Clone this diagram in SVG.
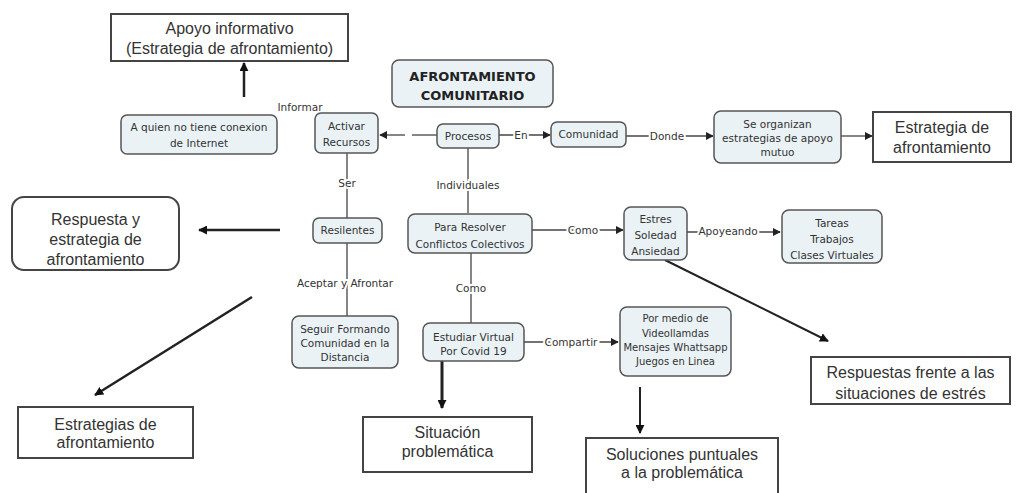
<svg xmlns="http://www.w3.org/2000/svg" width="1016" height="493" viewBox="0 0 1016 493">
<defs>
<marker id="ah" viewBox="0 0 10 10" refX="9" refY="5" markerWidth="8" markerHeight="8" markerUnits="userSpaceOnUse" orient="auto"><path d="M0,0 L10,5 L0,10 z" fill="#222"/></marker>
<marker id="ahb" viewBox="0 0 10 10" refX="9" refY="5" markerWidth="9" markerHeight="9" markerUnits="userSpaceOnUse" orient="auto"><path d="M0,0 L10,5 L0,10 z" fill="#111"/></marker>
</defs>
<style>
.n{fill:#eaf2f6;stroke:#555;stroke-width:1.5}
.b{fill:#fff;stroke:#444;stroke-width:2}
.t{font-family:"DejaVu Sans",Verdana,sans-serif;font-size:10.5px;fill:#333;text-anchor:middle}
.ts{font-size:10px}
.tb{font-family:"DejaVu Sans",Verdana,sans-serif;font-size:13px;font-weight:bold;fill:#222;text-anchor:middle}
.a{font-family:"Liberation Sans",Arial,sans-serif;font-size:16px;fill:#333;text-anchor:middle}
.l{font-family:"DejaVu Sans",Verdana,sans-serif;font-size:10.5px;fill:#333;text-anchor:middle;stroke:#fff;stroke-width:4;paint-order:stroke}
.c{stroke:#444;stroke-width:1.3;fill:none}
.k{stroke:#222;stroke-width:2.5;fill:none}
</style>
<rect width="1016" height="493" fill="#fff"/>
<g id="connectors">
<line class="c" x1="437" y1="135" x2="412" y2="135"/>
<line class="c" x1="405" y1="135" x2="380" y2="135" marker-end="url(#ah)"/>
<line class="k" x1="244" y1="97" x2="244" y2="63" marker-end="url(#ahb)"/>
<line class="c" x1="499" y1="135" x2="550" y2="135" marker-end="url(#ah)"/>
<line class="c" x1="626" y1="136" x2="713" y2="136" marker-end="url(#ah)"/>
<line class="c" x1="841" y1="136" x2="872" y2="136" marker-end="url(#ah)"/>
<line class="c" x1="468" y1="148" x2="468" y2="213"/>
<line class="c" x1="347" y1="153" x2="347" y2="218"/>
<line class="k" x1="280" y1="230" x2="199" y2="230" marker-end="url(#ahb)"/>
<line class="c" x1="347" y1="243" x2="347" y2="316"/>
<line class="k" x1="252" y1="297" x2="95" y2="395" marker-end="url(#ahb)"/>
<line class="c" x1="532" y1="230" x2="623" y2="230" marker-end="url(#ah)"/>
<line class="c" x1="687" y1="232" x2="780" y2="232" marker-end="url(#ah)"/>
<line class="k" x1="665" y1="260" x2="828" y2="341" marker-end="url(#ahb)" style="stroke-width:2"/>
<line class="c" x1="471" y1="253" x2="471" y2="323"/>
<line class="c" x1="524" y1="342" x2="618" y2="342" marker-end="url(#ah)"/>
<line class="k" x1="442" y1="361" x2="442" y2="408" marker-end="url(#ahb)" style="stroke-width:3"/>
<line class="k" x1="640" y1="387" x2="640" y2="433" marker-end="url(#ahb)" style="stroke-width:2"/>
<text class="l" x="300" y="111">Informar</text>
<text class="l" x="521" y="139">En</text>
<text class="l" x="667" y="140">Donde</text>
<text class="l" x="468" y="189">Individuales</text>
<text class="l" x="347" y="187">Ser</text>
<text class="l" x="345" y="287">Aceptar y Afrontar</text>
<text class="l" x="583" y="234">Como</text>
<text class="l" x="728" y="235">Apoyeando</text>
<text class="l" x="471" y="292">Como</text>
<text class="l" x="571" y="346">Compartir</text>
</g>
<g id="apoyo"><rect class="b" x="111" y="14" width="237" height="47"/><text class="a" x="229.5" y="34">Apoyo informativo</text><text class="a" x="229.5" y="54">(Estrategia de afrontamiento)</text></g>
<g id="titulo"><rect class="n" x="392" y="60" width="161" height="47" rx="7"/><text class="tb" x="472.5" y="81">AFRONTAMIENTO</text><text class="tb" x="472.5" y="100">COMUNITARIO</text></g>
<g id="aquien"><rect class="n" x="121" y="115" width="156" height="39" rx="6"/><text class="t" x="199" y="131">A quien no tiene conexion</text><text class="t" x="199" y="147">de Internet</text></g>
<g id="activar"><rect class="n" x="315" y="113" width="63" height="40" rx="6"/><text class="t" x="346.5" y="130">Activar</text><text class="t" x="346.5" y="146">Recursos</text></g>
<g id="procesos"><rect class="n" x="437" y="124" width="62" height="24" rx="6"/><text class="t" x="468" y="140">Procesos</text></g>
<g id="comunidad"><rect class="n" x="551" y="122" width="75" height="25" rx="6"/><text class="t" x="588.5" y="138">Comunidad</text></g>
<g id="seorganizan"><rect class="n" x="714" y="111" width="127" height="52" rx="7"/><text class="t" x="777.5" y="128">Se organizan</text><text class="t" x="777.5" y="142">estrategias de apoyo</text><text class="t" x="777.5" y="156">mutuo</text></g>
<g id="estrategia"><rect class="b" x="873" y="112" width="138" height="50"/><text class="a" x="942" y="133">Estrategia de</text><text class="a" x="942" y="153">afrontamiento</text></g>
<g id="respuesta"><rect class="b" x="12" y="197" width="167" height="73" rx="12"/><text class="a" x="95.5" y="225">Respuesta y</text><text class="a" x="95.5" y="245">estrategia de</text><text class="a" x="95.5" y="265">afrontamiento</text></g>
<g id="resilentes"><rect class="n" x="313" y="218" width="69" height="25" rx="6"/><text class="t" x="347.5" y="234">Resilentes</text></g>
<g id="pararesolver"><rect class="n" x="408" y="214" width="124" height="39" rx="7"/><text class="t" x="470" y="231">Para Resolver</text><text class="t" x="470" y="248">Conflictos Colectivos</text></g>
<g id="estres"><rect class="n" x="624" y="207" width="63" height="53" rx="7"/><text class="t" x="655.5" y="223">Estres</text><text class="t" x="655.5" y="239">Soledad</text><text class="t" x="655.5" y="255">Ansiedad</text></g>
<g id="tareas"><rect class="n" x="782" y="210" width="100" height="53" rx="7"/><text class="t" x="832" y="227">Tareas</text><text class="t" x="832" y="243">Trabajos</text><text class="t" x="832" y="259">Clases Virtuales</text></g>
<g id="seguir"><rect class="n" x="292" y="316" width="106" height="52" rx="7"/><text class="t" x="345" y="333">Seguir Formando</text><text class="t" x="345" y="347">Comunidad en la</text><text class="t" x="345" y="361">Distancia</text></g>
<g id="estudiar"><rect class="n" x="423" y="323" width="101" height="38" rx="7"/><text class="t" x="473.5" y="341">Estudiar Virtual</text><text class="t" x="473.5" y="355">Por Covid 19</text></g>
<g id="pormedio"><rect class="n" x="620" y="307" width="111" height="69" rx="7"/><text class="t ts" x="675.5" y="322">Por medio de</text><text class="t ts" x="675.5" y="337">Videollamdas</text><text class="t ts" x="675.5" y="351">Mensajes Whattsapp</text><text class="t ts" x="675.5" y="365">Juegos en Linea</text></g>
<g id="respuestas"><rect class="b" x="811" y="357" width="199" height="47"/><text class="a" x="910.5" y="378">Respuestas frente a las</text><text class="a" x="910.5" y="399">situaciones de estrés</text></g>
<g id="estrategias"><rect class="b" x="18" y="407" width="175" height="51"/><text class="a" x="105.5" y="430">Estrategias de</text><text class="a" x="105.5" y="448">afrontamiento</text></g>
<g id="situacion"><rect class="b" x="363" y="417" width="169" height="55"/><text class="a" x="447.5" y="438">Situación</text><text class="a" x="447.5" y="457">problemática</text></g>
<g id="soluciones"><rect class="b" x="586" y="438" width="192" height="62"/><text class="a" x="682" y="460">Soluciones puntuales</text><text class="a" x="682" y="478">a la problemática</text></g>
</svg>
